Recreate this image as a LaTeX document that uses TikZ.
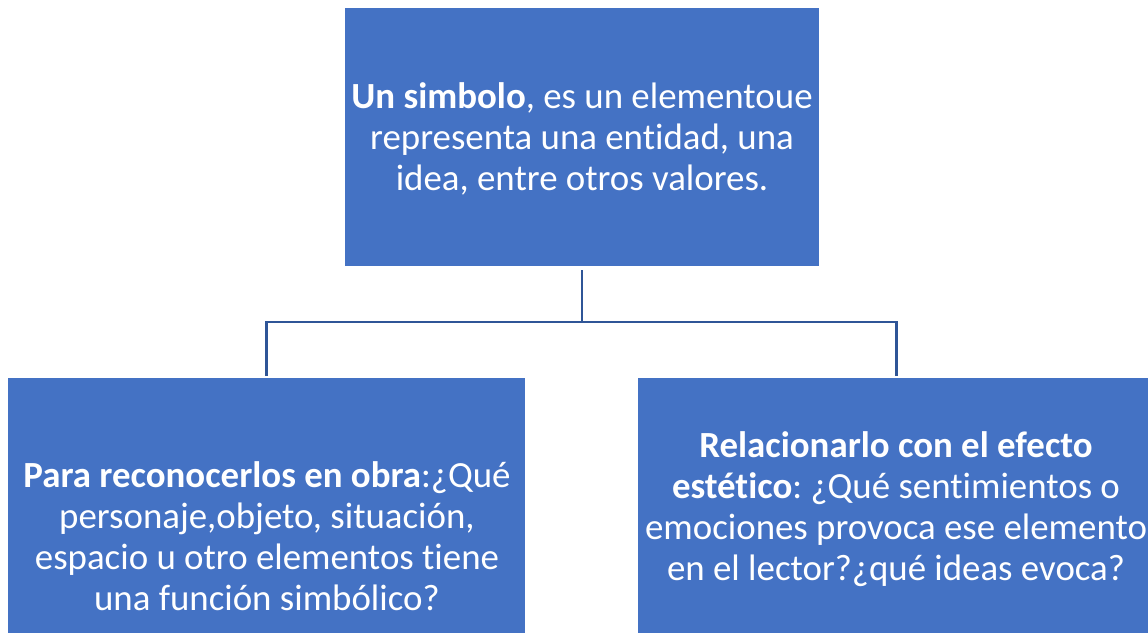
\documentclass[tikz,border=0pt]{standalone}
\usepackage{fontspec}
\setmainfont{Carlito}[Ligatures=NoCommon]
\frenchspacing
\definecolor{boxblue}{HTML}{4472C4}
\definecolor{lineblue}{HTML}{2F5597}
\tikzset{
  bluebox/.style={draw=none, fill=boxblue, inner sep=0pt, minimum width=#1, minimum height=258bp},
  boxtext/.style={text=white, align=center, inner sep=0pt, font=\fontsize{37}{41}\selectfont\frenchspacing},
  conn/.style={draw=lineblue, line width=2.5bp}
}
\begin{document}
\begin{tikzpicture}[x=1bp,y=-1bp]
\useasboundingbox (0,0) rectangle (1148,633);
\clip (0,0) rectangle (1148,633);
\node[bluebox=474bp] (top) at (582,137) {};
\node[bluebox=517bp] (left) at (266.5,507) {};
\node[bluebox=517bp] (right) at (896.5,507) {};
\node[boxtext] (toptext) at (582,139) {\textbf{Un simbolo}, es un elementoue\\representa una entidad, una\\idea, entre otros valores.};
\node[boxtext] (lefttext) at (267,536) {\textbf{Para reconocerlos en obra}:¿Qué\\personaje,objeto, situación,\\espacio u otro elementos tiene\\una función simbólico?};
\node[boxtext] (righttext) at (896,509) {\textbf{Relacionarlo con el efecto}\\\textbf{estético}: ¿Qué sentimientos o\\emociones provoca ese elemento\\en el lector?¿qué ideas evoca?};
\coordinate (j) at (582,322);
\draw[conn, shorten <=4bp] (top.south) -- (j);
\draw[conn, shorten <=2bp, shorten >=2bp] (left.north) |- (j) -| (right.north);
\end{tikzpicture}
\end{document}
